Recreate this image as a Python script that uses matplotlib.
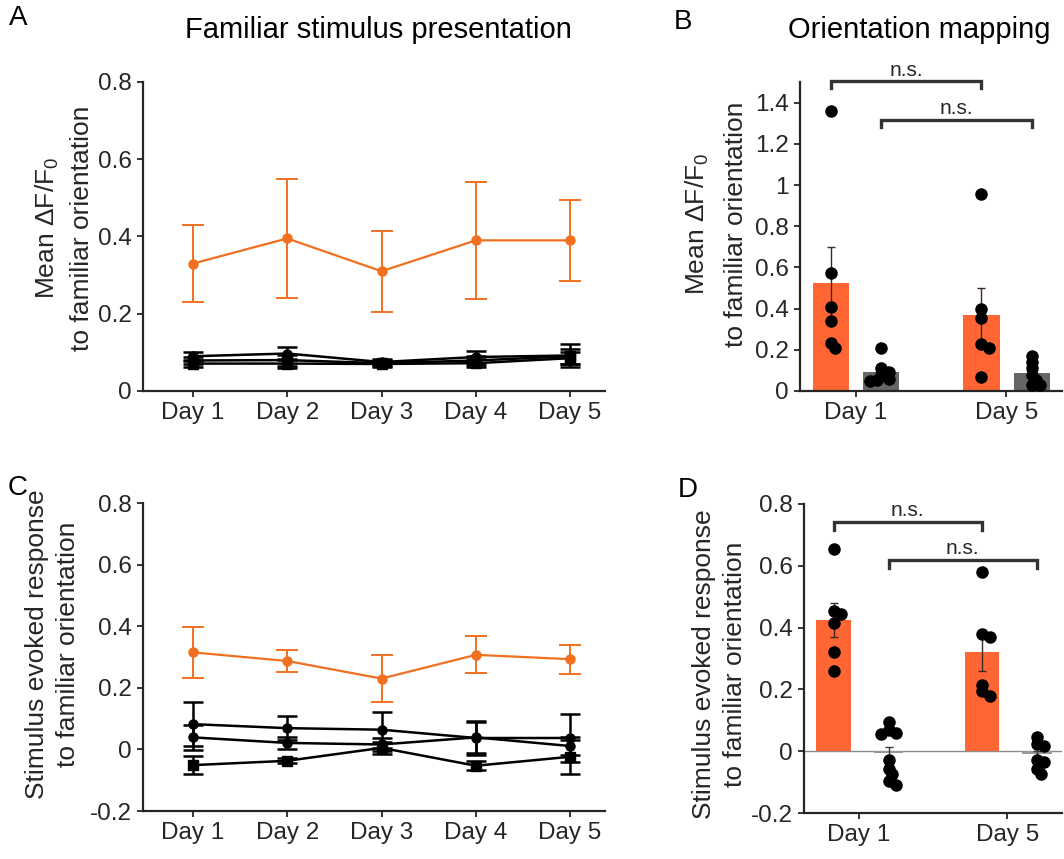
import matplotlib
matplotlib.use('Agg')
import matplotlib.pyplot as plt
import numpy as np

plt.rcParams['font.family'] = ['Liberation Sans', 'DejaVu Sans']
plt.rcParams['mathtext.fontset'] = 'custom'
plt.rcParams['mathtext.rm'] = 'Liberation Sans'
plt.rcParams['mathtext.it'] = 'Liberation Sans:italic'
plt.rcParams['mathtext.default'] = 'regular'

# ---- data ----
days = ['Day 1', 'Day 2', 'Day 3', 'Day 4', 'Day 5']
groups = ['Day 1', 'Day 5']

# A: familiar stimulus presentation, mean dF/F0
famA = [0.33, 0.395, 0.31, 0.39, 0.39]
famA_err = [0.10, 0.155, 0.105, 0.152, 0.105]
ctrlA = [[0.090, 0.097, 0.075, 0.088, 0.092],
         [0.079, 0.080, 0.072, 0.079, 0.090],
         [0.071, 0.071, 0.070, 0.072, 0.085]]
ctrlA_err = [[0.012, 0.018, 0.008, 0.015, 0.03],
             [0.010, 0.014, 0.008, 0.012, 0.02],
             [0.008, 0.012, 0.007, 0.010, 0.015]]

# C: stimulus evoked response
famC = [0.315, 0.287, 0.23, 0.307, 0.293]
famC_err = [0.082, 0.036, 0.075, 0.06, 0.047]
ctrlC = [[0.082, 0.069, 0.064, 0.037, 0.037],
         [0.039, 0.021, 0.016, 0.039, 0.011],
         [-0.051, -0.037, 0.005, -0.053, -0.024]]
ctrlC_err = [[0.072, 0.040, 0.058, 0.055, 0.077],
             [0.040, 0.020, 0.020, 0.050, 0.030],
             [0.030, 0.008, 0.020, 0.015, 0.055]]

# B: orientation mapping, mean dF/F0
famB_mean = [0.525, 0.37]
famB_err = [0.175, 0.128]
ctrlB_mean = [0.09, 0.085]
ctrlB_err = [0.015, 0.015]
famB_pts = [[1.36, 0.575, 0.41, 0.34, 0.235, 0.21],
            [0.955, 0.40, 0.355, 0.23, 0.21, 0.07]]
ctrlB_pts = [[0.21, 0.11, 0.094, 0.078, 0.06, 0.053, 0.05],
             [0.17, 0.14, 0.11, 0.08, 0.053, 0.03, 0.03]]

# D: orientation mapping, stimulus evoked response
famD_mean = [0.425, 0.32]
famD_err = [0.055, 0.06]
ctrlD_mean = [-0.005, -0.01]
ctrlD_err = [0.02, 0.012]
famD_pts = [[0.655, 0.455, 0.445, 0.415, 0.32, 0.26],
            [0.58, 0.38, 0.37, 0.215, 0.195, 0.18]]
ctrlD_pts = [[0.094, 0.067, 0.059, 0.056, -0.03, -0.057, -0.073, -0.095, -0.109],
             [0.045, 0.024, 0.018, -0.03, -0.035, -0.057, -0.073]]

ORANGE = '#F07020'
BAR_OR = '#FF6633'
DARK = '#262626'

W, H = 1064, 859
fig = plt.figure(figsize=(W / 100, H / 100), dpi=100)


def px_axes(l, t, r, b):
    return fig.add_axes([l / W, 1 - b / H, (r - l) / W, (b - t) / H])


axA = px_axes(143, 82, 605, 391)
axB = px_axes(800, 82, 1062, 391)
axC = px_axes(143, 503, 605, 811)
axD = px_axes(804, 504, 1062, 813)


def style(ax):
    for s in ['top', 'right']:
        ax.spines[s].set_visible(False)
    for s in ['left', 'bottom']:
        ax.spines[s].set_linewidth(1.6)
        ax.spines[s].set_color(DARK)
    ax.tick_params(direction='out', length=4, width=1.3, colors=DARK,
                   labelsize=17.5, pad=4)


def line_panel(ax, fam, fam_err, ctrl, ctrl_err, ylim, yticks, markers):
    x = np.arange(1, len(days) + 1)
    for vals, err, m in zip(ctrl, ctrl_err, markers):
        ax.errorbar(x, vals, yerr=err, color='black', lw=1.8, marker=m,
                    ms=6.5, capsize=7, capthick=1.8, elinewidth=1.8, zorder=2)
    ax.errorbar(x, fam, yerr=fam_err, color=ORANGE, lw=1.6, marker='o',
                ms=6.5, capsize=8, capthick=1.4, elinewidth=1.4, zorder=3)
    ax.set_xlim(0.47, 5.37)
    ax.set_ylim(*ylim)
    ax.set_yticks(yticks)
    ax.set_yticklabels([('%g' % v) for v in yticks])
    ax.set_xticks(x)
    ax.set_xticklabels(days)
    style(ax)


def swarm_x(ax, center, ys, diam_px=11):
    # simple beeswarm: nudge points sideways when they overlap a lot
    bb = ax.get_window_extent()
    x0, x1 = ax.get_xlim()
    y0, y1 = ax.get_ylim()
    sx = bb.width / (x1 - x0)
    sy = bb.height / (y1 - y0)
    placed = []
    xs = []
    step = diam_px * 0.35
    for y in ys:
        py = y * sy
        for k in [0, 1, -1, 2, -2, 3, -3]:
            px = k * step
            if all((px - qx) ** 2 + (py - qy) ** 2 >= (0.55 * diam_px) ** 2
                   for qx, qy in placed):
                break
        placed.append((px, py))
        xs.append(center + px / sx)
    return xs


def bracket(ax, x1, x2, y, drop):
    ax.plot([x1, x1, x2, x2], [y - drop, y, y, y - drop], color='#333333',
            lw=2.4, clip_on=False, solid_joinstyle='miter')
    ax.text((x1 + x2) / 2, y + drop * 0.2, 'n.s.', ha='center', va='bottom',
            fontsize=15, color=DARK)


def bar_panel(ax, fam_mean, fam_err, fam_pts, ctrl_mean, ctrl_err, ctrl_pts,
              ylim, yticks, offs, widths, ctrl_color, br):
    x = np.arange(1, len(groups) + 1)
    xo = x + offs[0]
    xc = x + offs[1]
    ax.set_xlim(0.63, 2.37)
    ax.set_ylim(*ylim)
    ax.bar(xo, fam_mean, width=widths[0], color=BAR_OR, zorder=1)
    ax.bar(xc, ctrl_mean, width=widths[1], color=ctrl_color, zorder=1)
    ax.errorbar(xo, fam_mean, yerr=fam_err, fmt='none', ecolor='#3a2a20',
                elinewidth=1.0, capsize=3, capthick=1.0, zorder=2)
    ax.errorbar(xc, ctrl_mean, yerr=ctrl_err, fmt='none', ecolor='#3a3a3a',
                elinewidth=1.0, capsize=3, capthick=1.0, zorder=2)
    for i in range(len(groups)):
        ax.plot(swarm_x(ax, xo[i], fam_pts[i]), fam_pts[i], 'o',
                color='black', ms=8, zorder=3)
        ax.plot(swarm_x(ax, xc[i], ctrl_pts[i]), ctrl_pts[i], 'o',
                color='black', ms=8, zorder=3)
    ax.set_yticks(yticks)
    ax.set_yticklabels([('%g' % v) for v in yticks])
    ax.set_xticks(x)
    ax.set_xticklabels(groups)
    style(ax)
    bracket(ax, xo[0], xo[1], br[0], br[2])
    bracket(ax, xc[0], xc[1], br[1], br[2])


line_panel(axA, famA, famA_err, ctrlA, ctrlA_err, (0, 0.8),
           [0, 0.2, 0.4, 0.6, 0.8], ['o', 's', 's'])
line_panel(axC, famC, famC_err, ctrlC, ctrlC_err, (-0.2, 0.8),
           [-0.2, 0, 0.2, 0.4, 0.6, 0.8], ['o', 'o', 's'])

bar_panel(axB, famB_mean, famB_err, famB_pts, ctrlB_mean, ctrlB_err, ctrlB_pts,
          (0, 1.5), [0, 0.2, 0.4, 0.6, 0.8, 1, 1.2, 1.4], (-0.165, 0.17),
          (0.24, 0.24), '#666666', (1.505, 1.317, 0.035))
axD.axhline(0, color='#8a8a8a', lw=1.0, zorder=0.5)
bar_panel(axD, famD_mean, famD_err, famD_pts, ctrlD_mean, ctrlD_err, ctrlD_pts,
          (-0.2, 0.8), [-0.2, 0, 0.2, 0.4, 0.6, 0.8], (-0.17, 0.2),
          (0.235, 0.2), '#999999', (0.743, 0.619, 0.027))

labA = 'Mean $\\Delta$F/F$_0$\nto familiar orientation'
labC = 'Stimulus evoked response\nto familiar orientation'
for ax, lab, cx, cy, ls in [(axA, labA, -0.107, 0.527, 1.45),
                            (axB, labA, -0.197, 0.54, 1.7),
                            (axC, labC, -0.136, 0.54, 1.4),
                            (axD, labC, -0.219, 0.48, 1.4)]:
    ax.set_ylabel(lab, fontsize=19, color=DARK, linespacing=ls)
    ax.yaxis.set_label_coords(cx, cy)

fig.text(378 / W, 1 - 30 / H, 'Familiar stimulus presentation', ha='center',
         va='center', fontsize=21, color='black')
fig.text(919 / W, 1 - 30 / H, 'Orientation mapping', ha='center',
         va='center', fontsize=21, color='black')
for s, x, y in [('A', 18, 18), ('B', 683, 22), ('C', 18, 488), ('D', 688, 490)]:
    fig.text(x / W, 1 - y / H, s, ha='center', va='center', fontsize=20,
             color='black')

fig.savefig('out.png', dpi=100)
